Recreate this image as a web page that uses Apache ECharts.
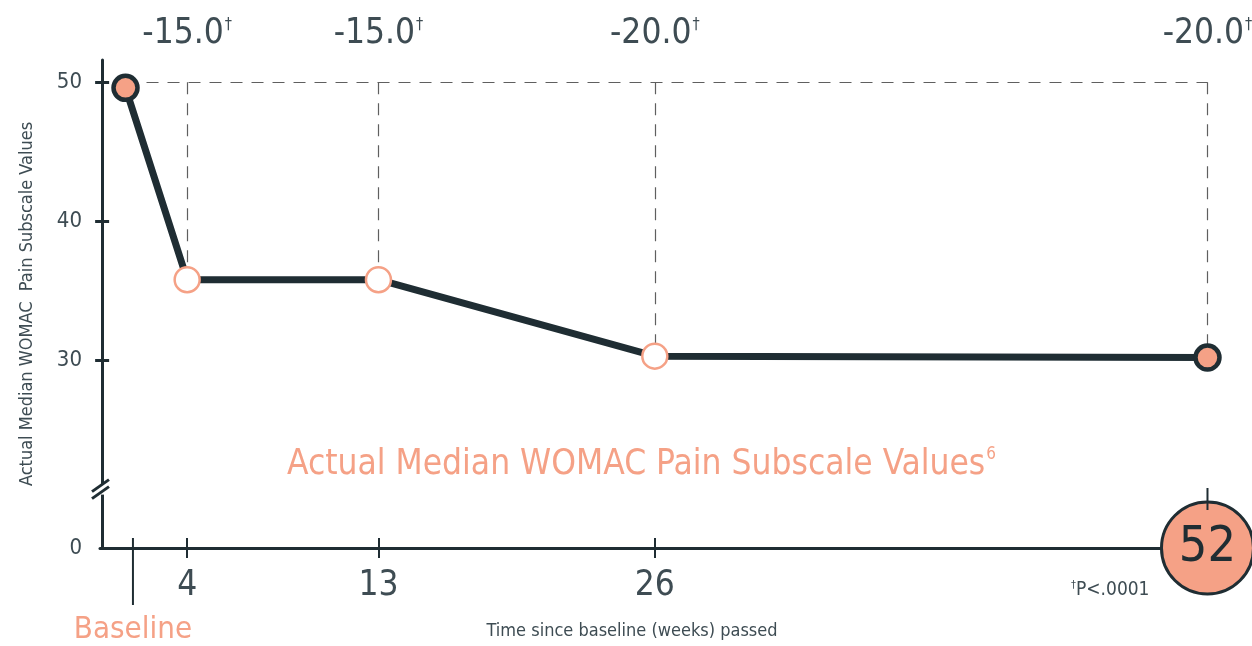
<!DOCTYPE html>
<html>
<head>
<meta charset="utf-8">
<script src="https://cdn.jsdelivr.net/npm/echarts@6/dist/echarts.min.js"></script>
<style>
html, body { margin: 0; padding: 0; background: #fff; }
#chart { width: 1252px; height: 646px; }
</style>
</head>
<body>
<div id="chart"></div>
<script>
// weeks since baseline (baseline point sits just right of the axis origin)
const weeks = [1.1, 4, 13, 26, 52]
const medianPain = [49.6, 35.8, 35.8, 30.3, 30.2]
const changeLabels = ['', '-15.0', '-15.0', '-20.0', '-20.0']
const weekTicks = [4, 13, 26]
const yTicks = [30, 40, 50]
const baselineTick = 1.45
const yFloor = 16.5   // bottom of the broken axis, shown as 0
const yBreak = 20.7
const refLevel = 50

const DARK = '#1f2d33'
const SALMON = '#f5a186'
const GREY = '#3e4c53'
const FONT = "'Liberation Sans Narrow', 'DejaVu Sans Condensed', 'Roboto', sans-serif"

const chart = echarts.init(document.getElementById('chart'))

const lineData = weeks.map((w, i) => {
    const end = i === 0 || i === weeks.length - 1
    return {
        value: [w, medianPain[i]],
        symbolSize: end ? 24 : 25,
        itemStyle: end
            ? { color: SALMON, borderColor: DARK, borderWidth: 4.5 }
            : { color: '#fff', borderColor: SALMON, borderWidth: 2.5 }
    }
})

const dashed = [[{ coord: [weeks[0], refLevel] }, { coord: [weeks[weeks.length - 1], refLevel] }]]
for (let i = 1; i < weeks.length; i++) {
    dashed.push([{ coord: [weeks[i], refLevel] }, { coord: [weeks[i], medianPain[i]] }])
}

const option = {
    animation: false,
    title: [{
        text: '{t|Actual Median WOMAC Pain Subscale Values}{s|6}',
        left: 282,
        top: 436,
        textStyle: {
            fontWeight: 'normal',
            rich: {
                t: { fontFamily: FONT, fontSize: 35, fontWeight: 'normal', color: SALMON, lineHeight: 48 },
                s: { fontFamily: FONT, fontSize: 17, fontWeight: 'normal', color: SALMON, lineHeight: 48, padding: [0, 0, 20, 1] }
            }
        }
    }, {
        text: '{d|†}{t|P<.0001}',
        left: 1066,
        top: 575,
        textStyle: {
            fontWeight: 'normal',
            rich: {
                d: { fontFamily: FONT, fontSize: 11, fontWeight: 'normal', color: GREY, padding: [0, 0, 9, 0] },
                t: { fontFamily: FONT, fontSize: 19, fontWeight: 'normal', color: GREY }
            }
        }
    }],
    grid: {
        left: 100,
        right: 2,
        top: 60,
        bottom: 98,
        containLabel: false,
        outerBoundsMode: 'none'
    },
    xAxis: [{
        type: 'value',
        min: -0.1,
        max: 54,
        name: 'Time since baseline (weeks) passed',
        nameLocation: 'middle',
        nameGap: 74,
        nameMoveOverlap: false,
        nameTextStyle: { fontFamily: FONT, fontSize: 18, color: GREY, padding: [0, 86, 0, 0] },
        axisLine: { lineStyle: { color: DARK, width: 3 } },
        axisTick: { customValues: weekTicks, length: 10, lineStyle: { color: DARK, width: 2 } },
        axisLabel: {
            customValues: [baselineTick].concat(weekTicks),
            margin: 20,
            formatter: v => v === baselineTick ? '{b|Baseline}' : '{n|' + v + '}',
            rich: {
                n: { fontFamily: FONT, fontSize: 35, color: GREY },
                b: { fontFamily: FONT, fontSize: 31, color: SALMON, padding: [46, 0, 0, 0] }
            }
        },
        splitLine: { show: false }
    }, {
        type: 'value',
        position: 'bottom',
        offset: 0,
        min: -0.1,
        max: 54,
        axisLine: { show: false },
        axisTick: { inside: true, customValues: weekTicks, length: 10, lineStyle: { color: DARK, width: 2 } },
        axisLabel: { show: false },
        splitLine: { show: false }
    }],
    yAxis: [{
        type: 'value',
        min: yFloor,
        max: 51.6,
        name: 'Actual Median WOMAC  Pain Subscale Values',
        nameLocation: 'middle',
        nameGap: 64,
        nameMoveOverlap: false,
        nameTextStyle: { fontFamily: FONT, fontSize: 18, color: GREY },
        axisLine: { show: true, lineStyle: { color: DARK, width: 3 } },
        axisTick: { customValues: yTicks, length: 7, lineStyle: { color: DARK, width: 3 } },
        axisLabel: {
            customValues: [yFloor].concat(yTicks),
            formatter: v => v === yFloor ? '0' : String(v),
            margin: 18,
            fontFamily: FONT,
            fontSize: 22,
            color: GREY
        },
        splitLine: { show: false }
    }, {
        type: 'value',
        position: 'left',
        offset: 0,
        min: yFloor,
        max: 51.6,
        axisLine: { show: false },
        axisTick: { inside: true, customValues: yTicks, length: 7, lineStyle: { color: DARK, width: 3 } },
        axisLabel: { show: false },
        splitLine: { show: false }
    }],
    series: [{
        type: 'line',
        data: lineData,
        symbol: 'circle',
        clip: false,
        z: 5,
        lineStyle: { color: DARK, width: 7 },
        markLine: {
            silent: true,
            symbol: 'none',
            z: 1,
            label: { show: false },
            lineStyle: { color: '#5f5f5f', width: 1.2, type: [12, 9] },
            data: dashed
        }
    }, {
        // change-from-baseline labels above the reference line
        type: 'scatter',
        symbolSize: 0,
        clip: false,
        itemStyle: { opacity: 1 },
        data: weeks.map((w, i) => [w, refLevel, changeLabels[i]]).slice(1),
        label: {
            show: true,
            position: 'top',
            distance: 28,
            formatter: p => '{v|' + p.value[2] + '}{d|†}',
            rich: {
                v: { fontFamily: FONT, fontSize: 35, color: GREY, lineHeight: 40 },
                d: { fontFamily: FONT, fontSize: 16, color: GREY, padding: [0, 0, 18, 1] }
            }
        }
    }, {
        // week 52 marker on the x axis
        type: 'scatter',
        clip: false,
        z: 6,
        data: [[52, yFloor]],
        symbolSize: 92,
        itemStyle: { color: SALMON, borderColor: DARK, borderWidth: 3, opacity: 1 },
        label: {
            show: true,
            position: 'inside',
            formatter: '52',
            fontFamily: FONT,
            fontSize: 50,
            color: DARK
        }
    }]
}

chart.setOption(option)

// decorations placed through the chart's own scales
const px = (x, y) => chart.convertToPixel({ xAxisIndex: 0, yAxisIndex: 0 }, [x, y])
const origin = px(-0.1, yBreak)
const base = px(baselineTick, yFloor)
const end = px(52, yFloor)

chart.setOption({
    graphic: [{
        type: 'rect',
        shape: { x: origin[0] - 4, y: origin[1] - 5, width: 8, height: 10 },
        style: { fill: '#fff' },
        z: 10
    }, {
        type: 'line',
        shape: { x1: origin[0] - 8, y1: origin[1] + 2, x2: origin[0] + 9, y2: origin[1] - 10 },
        style: { stroke: DARK, lineWidth: 3 },
        z: 11
    }, {
        type: 'line',
        shape: { x1: origin[0] - 8, y1: origin[1] + 9, x2: origin[0] + 9, y2: origin[1] - 3 },
        style: { stroke: DARK, lineWidth: 3 },
        z: 11
    }, {
        type: 'line',
        shape: { x1: base[0], y1: base[1] - 10, x2: base[0], y2: base[1] + 57 },
        style: { stroke: DARK, lineWidth: 2 },
        z: 11
    }, {
        type: 'line',
        shape: { x1: end[0], y1: end[1] - 60, x2: end[0], y2: end[1] - 38 },
        style: { stroke: DARK, lineWidth: 2 },
        z: 11
    }]
})
</script>
</body>
</html>
